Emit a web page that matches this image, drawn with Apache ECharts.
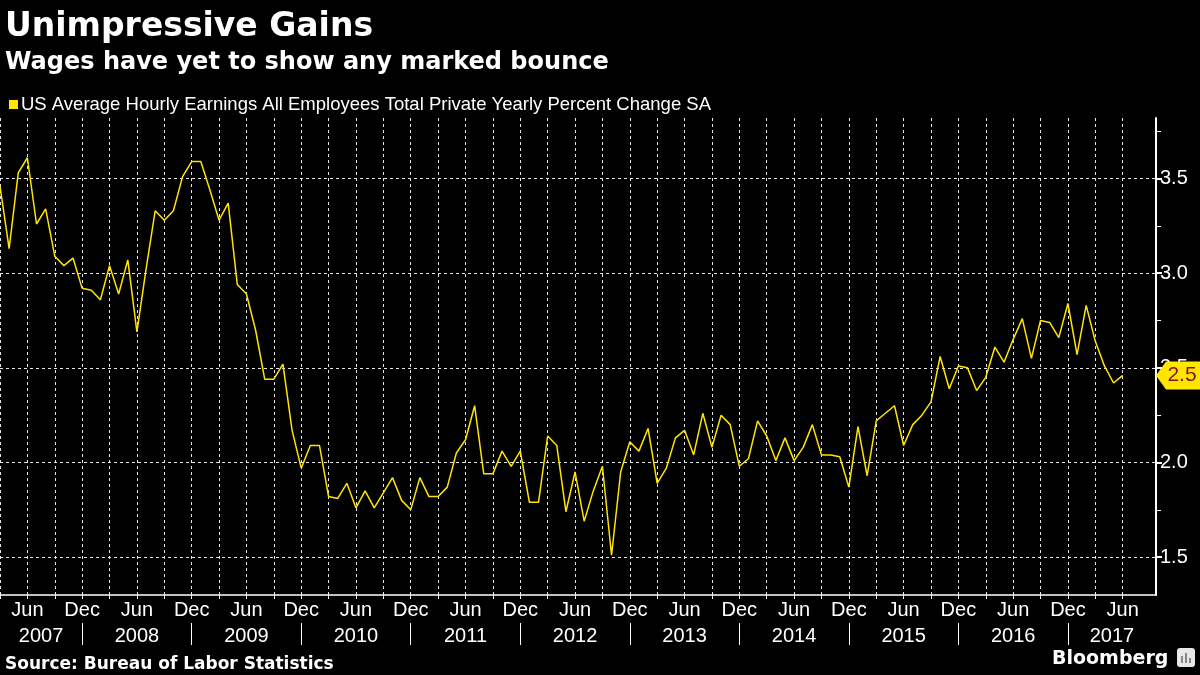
<!DOCTYPE html>
<html><head><meta charset="utf-8">
<script src="https://cdn.jsdelivr.net/npm/echarts@6/dist/echarts.min.js"></script>
<style>html,body{margin:0;padding:0;background:#000;}#c{width:1200px;height:675px;}</style>
</head><body><div id="c"></div>
<script>
// first observation: March 2007, monthly through June 2017
const firstYear = 2007;
const firstMonthIndex = 2; // 0 = Jan
const values = [
  3.46,3.13,3.53,3.61,3.26,3.34,3.09,3.04,3.08,2.92,2.91,2.86,
  3.04,2.89,3.07,2.69,3.02,3.33,3.28,3.33,3.51,3.59,3.59,3.44,
  3.28,3.37,2.94,2.89,2.70,2.44,2.44,2.52,2.17,1.97,2.09,2.09,
  1.82,1.81,1.89,1.76,1.85,1.76,1.84,1.92,1.80,1.75,1.92,1.82,
  1.82,1.87,2.05,2.12,2.30,1.94,1.94,2.06,1.98,2.06,1.79,1.79,
  2.14,2.09,1.74,1.95,1.69,1.85,1.98,1.51,1.95,2.11,2.06,2.18,
  1.89,1.97,2.13,2.17,2.04,2.26,2.08,2.25,2.20,1.98,2.02,2.22,
  2.14,2.01,2.13,2.01,2.08,2.20,2.04,2.04,2.03,1.87,2.19,1.93,
  2.22,2.26,2.30,2.09,2.20,2.25,2.32,2.56,2.39,2.51,2.50,2.38,
  2.45,2.61,2.53,2.65,2.76,2.55,2.75,2.74,2.66,2.84,2.57,2.83,
  2.64,2.51,2.42,2.46
];
const monthNames = ['Jan','Feb','Mar','Apr','May','Jun','Jul','Aug','Sep','Oct','Nov','Dec'];
const monthTickLabels = ['Jun','Dec'];
const yearLabels = ['2007','2008','2009','2010','2011','2012','2013','2014','2015','2016','2017'];
const yTickLabels = [1.5, 2.0, 2.5, 3.0, 3.5];
const yMinorTicks = [1.75, 2.25, 2.75, 3.25, 3.75];
const seriesName = 'US Average Hourly Earnings All Employees Total Private Yearly Percent Change SA';

const n = values.length;
const xMax = n - 1 + 3.65;
const monthOf = i => (firstMonthIndex + i) % 12;
const yearIdxOf = v => Math.floor((firstMonthIndex + v) / 12);
const gridPos = [], labelPos = [], decPos = [];
for (let i = 0; i < n; i++) {
  if (monthOf(i) % 3 === 2) gridPos.push(i);
  if (monthTickLabels.indexOf(monthNames[monthOf(i)]) >= 0) labelPos.push(i);
  if (monthOf(i) === 11) decPos.push(i);
}
const bounds = [0].concat(decPos).concat([xMax]);
const yearCenters = [];
for (let k = 0; k < yearLabels.length; k++) yearCenters.push((bounds[k] + bounds[k + 1]) / 2);

const chart = echarts.init(document.getElementById('c'), null, {renderer: 'canvas'});
const white = '#ffffff';
const yellow = '#ffe500';
chart.setOption({
  backgroundColor: '#000',
  animation: false,
  title: [
    {text: 'Unimpressive Gains', left: 0, top: 6,
     textStyle: {color: white, fontFamily: 'DejaVu Sans', fontWeight: 'bold', fontSize: 33}},
    {text: 'Wages have yet to show any marked bounce', left: 0, top: 46,
     textStyle: {color: white, fontFamily: 'DejaVu Sans', fontWeight: 'bold', fontSize: 24}},
    {text: 'Source: Bureau of Labor Statistics', left: 0, top: 651,
     textStyle: {color: white, fontFamily: 'DejaVu Sans', fontWeight: 'bold', fontSize: 17}},
    {text: 'Bloomberg', left: 1047, top: 645,
     textStyle: {color: white, fontFamily: 'DejaVu Sans', fontWeight: 'bold', fontSize: 19}}
  ],
  graphic: [
    {type: 'rect', shape: {x: 1177, y: 648, width: 18, height: 19, r: 3}, style: {fill: '#e8e8e8'}},
    {type: 'rect', shape: {x: 1181, y: 656, width: 2, height: 7}, style: {fill: '#888'}},
    {type: 'rect', shape: {x: 1185, y: 653, width: 2, height: 10}, style: {fill: '#888'}},
    {type: 'rect', shape: {x: 1189, y: 658, width: 2, height: 5}, style: {fill: '#888'}}
  ],
  legend: {
    left: 4, top: 90, icon: 'rect', itemWidth: 9, itemHeight: 9, itemGap: 4,
    textStyle: {color: white, fontFamily: 'Liberation Sans', fontSize: 18.5, padding: [0, 0, 0, -2]},
    data: [seriesName]
  },
  grid: {left: 0, right: 44, top: 118, bottom: 80, containLabel: false},
  xAxis: [
    {type: 'value', min: 0, max: xMax, position: 'bottom',
     axisLine: {show: true, onZero: false, lineStyle: {color: white, width: 1.5}},
     axisTick: {show: true, customValues: gridPos, length: 4, lineStyle: {color: white}},
     axisLabel: {show: true, customValues: labelPos, color: white, fontFamily: 'Liberation Sans', fontSize: 20, margin: 5,
                 formatter: v => monthNames[monthOf(Math.round(v))]},
     splitLine: {show: true, lineStyle: {color: '#e6e6e6', type: [3, 3], width: 1}}},
    {type: 'value', min: 0, max: xMax, position: 'bottom', offset: 28,
     axisLine: {show: false, onZero: false},
     axisTick: {show: true, customValues: decPos, length: 22, lineStyle: {color: white}},
     axisLabel: {show: true, customValues: yearCenters, color: white, fontFamily: 'Liberation Sans', fontSize: 20, margin: 3,
                 formatter: v => yearLabels[yearIdxOf(v)]},
     splitLine: {show: false}}
  ],
  yAxis: [
    {type: 'value', min: 1.3, max: 3.82, position: 'right',
     axisLine: {show: true, onZero: false, lineStyle: {color: white, width: 2}},
     axisTick: {show: true, customValues: yTickLabels, length: 6, lineStyle: {color: white, width: 2}},
     axisLabel: {show: true, customValues: yTickLabels, color: white, fontFamily: 'Liberation Sans', fontSize: 20, margin: 4,
                 formatter: v => v.toFixed(1)},
     splitLine: {show: true, lineStyle: {color: '#e6e6e6', type: [3, 3], width: 1}}},
    {type: 'value', min: 1.3, max: 3.82, position: 'right',
     axisLine: {show: false, onZero: false},
     axisTick: {show: true, customValues: yMinorTicks, length: 5, lineStyle: {color: white}},
     axisLabel: {show: false},
     splitLine: {show: false}}
  ],
  series: [{
    name: seriesName, type: 'line', xAxisIndex: 0, yAxisIndex: 0,
    data: values.map((v, i) => [i, v]),
    showSymbol: false, symbol: 'none',
    itemStyle: {color: yellow},
    lineStyle: {color: yellow, width: 1.5},
    markPoint: {
      symbol: 'path://M0,14 L10,0 L44,0 L44,28 L10,28 Z',
      symbolSize: [44, 28], symbolOffset: [22, 0], symbolKeepAspect: false,
      itemStyle: {color: yellow},
      label: {show: true, color: '#8b1010', fontFamily: 'Liberation Sans', fontSize: 21, offset: [4, 0],
              formatter: p => Number(p.value).toFixed(1)},
      data: [{coord: [xMax, values[n - 1]], value: values[n - 1]}],
      z: 10
    }
  }]
});
</script></body></html>
